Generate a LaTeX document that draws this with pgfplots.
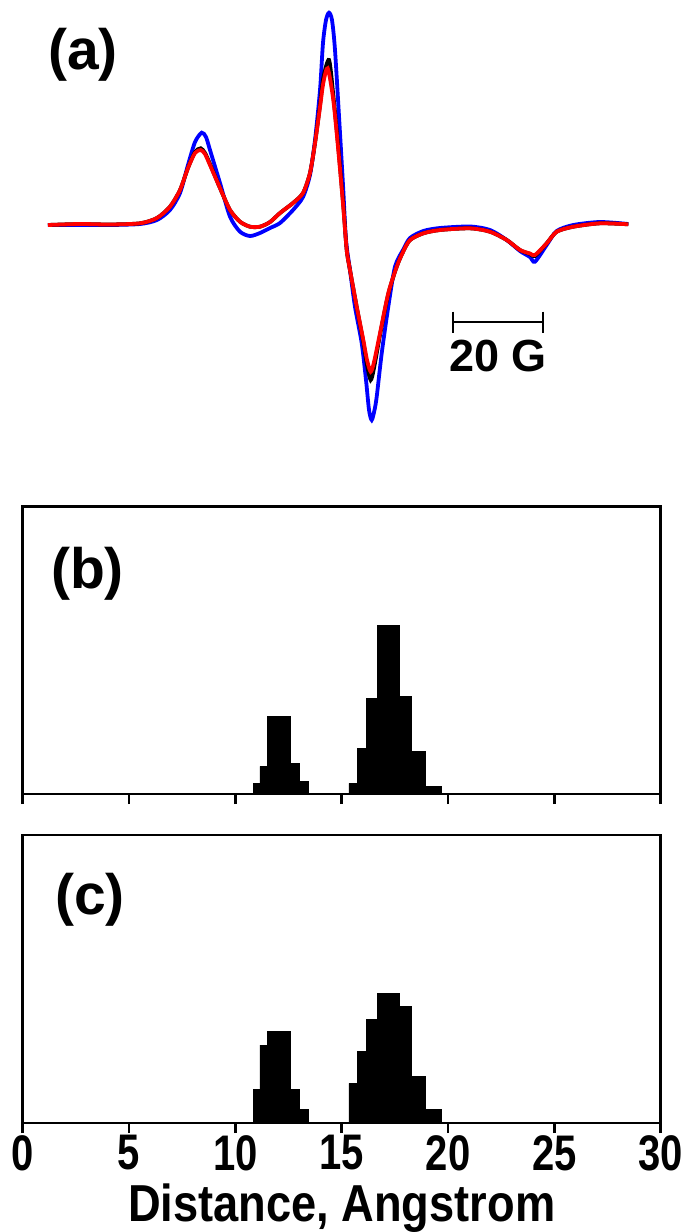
\documentclass[border=0pt]{standalone}
\usepackage{fontspec}
\setmainfont{Liberation Sans}
\newfontfamily\narrowsf{Liberation Sans}[FakeStretch=0.8]
\newfontfamily\labelsf{Liberation Sans}[FakeStretch=0.87]
\usepackage{pgfplots}
\pgfplotsset{compat=1.18}

\pgfplotsset{
  histaxis/.style={
    scale only axis,
    width=638pt,
    xmin=0, xmax=30,
    ymin=0,
    xtick={0,5,...,30},
    ytick=\empty,
    xtick pos=lower,
    tick align=outside,
    major tick length=10pt,
    axis line style={line width=2.5pt},
    tick style={line width=2.5pt, black},
  },
  histbar/.style={const plot, fill=black, draw=black, line width=0.5pt},
  spec/.style={smooth, tension=0.45, line width=3.8pt}
}

\begin{document}
\begin{tikzpicture}[x=1pt,y=1pt]
\path[use as bounding box] (0pt,0pt) rectangle (690pt,-1232pt);

% (a) EPR spectra, field in G, intensity in arbitrary units
\begin{axis}[at={(0pt,0pt)}, anchor=north west, scale only axis,
  width=690pt, height=450pt, xmin=-10.444, xmax=142.889,
  ymin=-225, ymax=225, hide axis, clip=false]
  \addplot[spec, color={rgb,255:red,0;green,0;blue,255}] coordinates {
    (0.22,0) (7.33,0) (14,0) (20.67,1) (24.44,5) (27.33,15) (29.56,32)
    (31.33,60) (32.89,83) (34.38,92.3) (35.33,88) (36.22,75) (38.44,42)
    (40.67,8.3) (42.89,-6.7) (45.11,-11) (47.33,-8) (49.56,-3) (51.78,2)
    (54.67,15) (56.89,28) (58.44,50) (59.56,85) (60.67,135) (61.33,182)
    (62,205) (62.67,212.3) (63.33,205) (64,175) (65.11,92) (65.84,35)
    (66.44,-15) (67.33,-45) (68.44,-81.7) (69.93,-118) (70.89,-155)
    (71.56,-185) (72.16,-195) (72.78,-185) (73.27,-171.7) (74.38,-128.3)
    (75.84,-81.7) (77.33,-41.7) (79.11,-25) (80.67,-13) (83.62,-6)
    (87.33,-3) (94,-1.5) (98.44,-5) (102.16,-15) (105.11,-26)
    (107.33,-32) (108.44,-36.7) (111.04,-20) (113.27,-6) (116.96,0)
    (122.89,3) (129.18,1)
  };
  \addplot[spec, black] coordinates {
    (0.22,0) (7.33,1) (14,0.5) (20.67,1.7) (24.44,7) (27.33,18.3)
    (29.56,35) (31.33,57) (32.89,73) (34.16,76.7) (35.11,72) (36.22,61)
    (38.44,37) (40.67,15) (42.89,3.3) (45.11,-1.7) (47.33,-1.7) (49.56,3)
    (51.78,12) (54.67,22) (56.89,32) (58.44,52) (59.56,82) (60.67,120)
    (61.4,147) (62.67,165) (63.62,130) (64.73,78) (65.84,20) (66.6,-25)
    (67.33,-45) (68.82,-81.7) (70.29,-117) (71.11,-140) (71.93,-155)
    (72.67,-143) (74,-110) (75.84,-69) (77.71,-41.7) (79.11,-27)
    (80.67,-15) (83.62,-8.3) (87.33,-5) (94,-3.3) (98.44,-6.7)
    (102.16,-15) (105.11,-25) (107.33,-29) (108.44,-31) (111.04,-18.3)
    (113.27,-6.7) (116.96,-1.7) (122.89,1.7) (129.18,0.7)
  };
  \addplot[spec, color={rgb,255:red,255;green,0;blue,0}] coordinates {
    (0.22,0) (7.33,1) (14,0.5) (20.67,1.7) (24.44,7) (27.33,18.3)
    (29.56,35) (31.33,57) (32.89,72) (34.16,75) (35.11,71) (36.22,60)
    (38.44,37) (40.67,15) (42.89,3.3) (45.11,-1.7) (47.33,-1.7) (49.56,3)
    (51.78,12) (54.67,22) (56.89,32) (58.44,52) (59.56,82) (60.67,118)
    (61.4,142) (62.38,156.7) (63.62,125) (64.73,75) (65.84,18) (66.6,-25)
    (67.33,-45) (68.82,-81.7) (70.29,-115) (71.11,-135) (71.93,-146.7)
    (72.67,-137) (74,-108.3) (75.84,-68.3) (77.71,-41.7) (79.11,-27)
    (80.67,-15) (83.62,-8.3) (87.33,-5) (94,-3.3) (98.44,-6.7)
    (102.16,-15) (105.11,-25) (107.33,-28.5) (108.44,-30) (111.04,-18.3)
    (113.27,-6.7) (116.96,-1.7) (122.89,1.7) (129.18,0.7)
  };
  % 20 G scale bar
  \draw[line width=2.7pt] (axis cs:90.22,-97) -- (axis cs:110.22,-97);
  \draw[line width=2.7pt] (axis cs:90.22,-86.7) -- (axis cs:90.22,-108.3);
  \draw[line width=2.7pt] (axis cs:110.22,-86.7) -- (axis cs:110.22,-108.3);
  \node[font=\fontsize{45}{45}\selectfont\bfseries] at (axis cs:100.2,-131) {20 G};
\end{axis}

% (b) distance distribution
\begin{axis}[histaxis, at={(22.7pt,-794pt)}, anchor=origin,
  height=287.3pt, ymax=287.3, xticklabels={}]
  \addplot[histbar] coordinates {
    (10.845,0) (10.845,10.7) (11.158,27.7) (11.519,77.7) (12.569,30.4)
    (12.992,12.3) (13.431,0)
  };
  \addplot[histbar] coordinates {
    (15.343,0) (15.343,10.7) (15.735,45.4) (16.174,95.4) (16.660,168.7)
    (17.710,97.7) (18.258,42.7) (18.917,8) (19.669,0)
  };
\end{axis}

% (c) distance distribution
\begin{axis}[histaxis, at={(22.7pt,-1123pt)}, anchor=origin,
  height=288pt, ymax=288,
  xticklabels={0,5,10,15,20,25,30},
  xticklabel style={font=\narrowsf\bfseries\fontsize{50}{50}\selectfont, inner sep=2pt},
  xlabel={Distance, Angstrom},
  xlabel style={font=\labelsf\bfseries\fontsize{52}{52}\selectfont, inner sep=0pt, yshift=-11pt}]
  \addplot[histbar] coordinates {
    (10.845,0) (10.845,33.7) (11.158,78) (11.519,91.3) (12.569,33.7)
    (12.992,14) (13.431,0)
  };
  \addplot[histbar] coordinates {
    (15.343,0) (15.343,39.7) (15.735,72) (16.174,104) (16.660,129.7)
    (17.710,117) (18.258,46.3) (18.917,14) (19.669,0)
  };
\end{axis}

\node[font=\fontsize{57}{57}\selectfont\bfseries] at (83pt,-55pt) {(a)};
\node[font=\fontsize{57}{57}\selectfont\bfseries] at (87.5pt,-573.5pt) {(b)};
\node[font=\fontsize{57}{57}\selectfont\bfseries] at (90pt,-900pt) {(c)};
\end{tikzpicture}
\end{document}
